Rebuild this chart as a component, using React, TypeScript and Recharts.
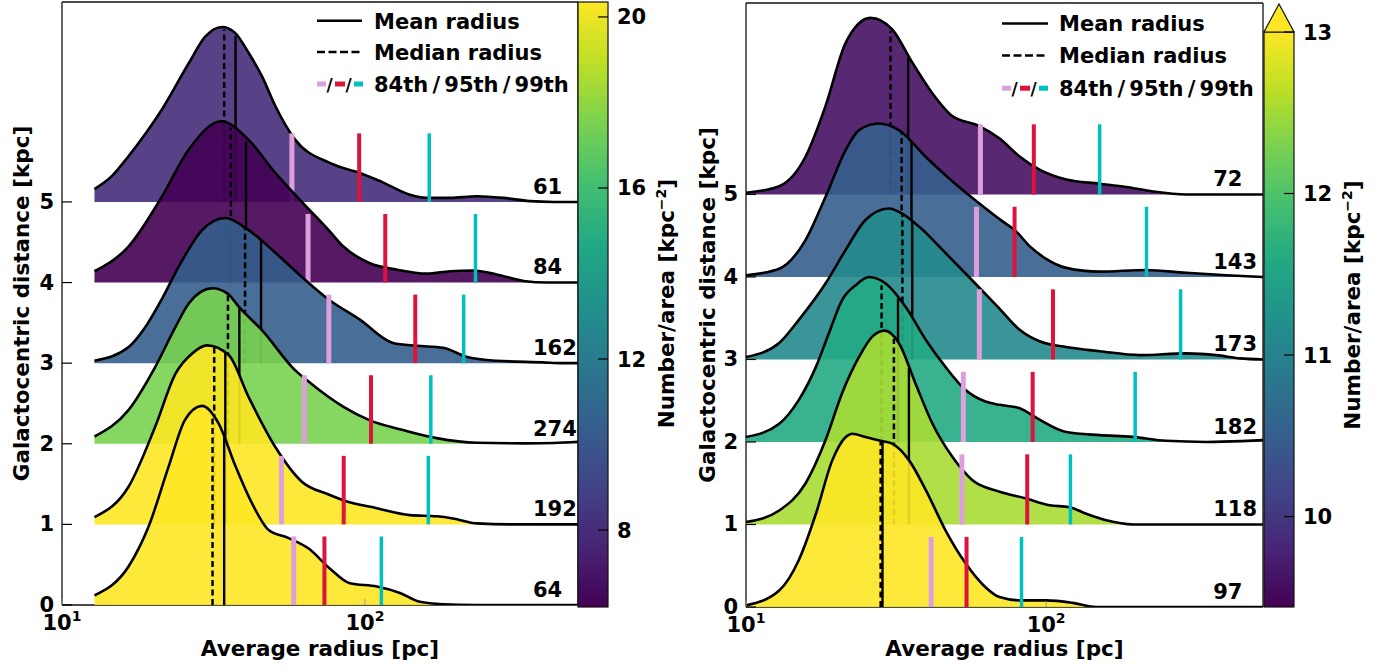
import React from 'react';
import { ComposedChart, Area, XAxis, YAxis, ReferenceLine, ReferenceDot } from 'recharts';

type Pt = [number, number];

const FONT = 'DejaVu Sans';
const H = 668;

// ridge index 0 = bottom ... 5 = top. points are [radius pc, height above the ridge baseline]
const yTicks = [0, 1, 2, 3, 4, 5];
const xTicks = [10, 100];

// ---------- left panel
const leftCounts = [64, 192, 274, 162, 84, 61];
const leftNumPerArea = [22, 21, 17.5, 10.4, 6.2, 8.0];
const leftR0: Pt[] = [[12.8, 0.12], [16.6, 0.48], [19.3, 0.97], [22.5, 1.72], [25.5, 2.3], [29, 2.47], [32.9, 2.25], [37.4, 1.72], [42.4, 1.26], [48.1, 0.93], [56, 0.83], [65.2, 0.7], [76.7, 0.45], [89.2, 0.27], [109.5, 0.23], [130.5, 0.15], [151.8, 0.04], [181, 0.01], [230, 0], [505, 0]];
const leftR1: Pt[] = [[12.8, 0.09], [16.6, 0.47], [20.3, 1.21], [23.7, 1.87], [26.9, 2.12], [30.1, 2.22], [35.5, 2.1], [41.3, 1.58], [50.6, 0.96], [61.9, 0.53], [75.9, 0.37], [84.7, 0.3], [109.5, 0.2], [140.8, 0.115], [172.5, 0.1], [195, 0.074], [234, 0.012], [300, 0], [505, 0]];
const leftR2: Pt[] = [[12.8, 0.09], [16.6, 0.42], [20.3, 0.95], [23.7, 1.45], [26.2, 1.74], [31.3, 1.93], [35.3, 1.86], [38.3, 1.7], [45.7, 1.41], [58.9, 0.91], [64.2, 0.79], [75.9, 0.58], [84.7, 0.46], [103.8, 0.29], [133.7, 0.17], [172.5, 0.07], [234, 0.012], [341, 0.005], [420, 0.01], [505, 0.025]];
const leftR3: Pt[] = [[12.8, 0.03], [16.6, 0.2], [18.7, 0.43], [21.4, 0.8], [24.3, 1.2], [29, 1.65], [34.6, 1.8], [41.3, 1.65], [50.6, 1.37], [61.9, 1.07], [75.9, 0.79], [96.2, 0.54], [123.8, 0.25], [148, 0.215], [181, 0.19], [216, 0.08], [272, 0.03], [387, 0.01], [450, 0], [505, 0]];
const leftR4: Pt[] = [[12.8, 0.14], [16.6, 0.45], [21.4, 1.07], [26.2, 1.65], [33.6, 2.0], [41.3, 1.77], [50.6, 1.36], [61.9, 1.0], [75.9, 0.65], [84.7, 0.45], [103.8, 0.24], [127, 0.16], [160, 0.11], [191, 0.14], [228, 0.15], [272, 0.1], [334, 0.02], [400, 0], [505, 0]];
const leftR5: Pt[] = [[12.8, 0.16], [14.6, 0.32], [16.6, 0.57], [18.8, 0.84], [21.4, 1.15], [26.2, 1.72], [29.7, 2.05], [33.7, 2.17], [37.2, 2.1], [41.3, 1.85], [45.7, 1.56], [50.6, 1.19], [58.9, 0.77], [75.9, 0.49], [84.7, 0.42], [96.2, 0.36], [114.9, 0.24], [140.8, 0.09], [164, 0.05], [191, 0.05], [234, 0.07], [286, 0.05], [350, 0.01], [420, 0], [505, 0]];
const leftMedian = [31.4, 31.8, 35.3, 40.2, 36.1, 34.3];
const leftMedianTop = [2.33, 2.2, 1.86, 1.69, 1.92, 2.14];
const leftMean = [34.3, 34.6, 38.5, 45.4, 40.5, 37.4];
const leftMeanTop = [2.08, 2.14, 1.69, 1.53, 1.75, 2.06];
const leftP84 = [58.2, 53.0, 63.1, 76.0, 64.9, 57.4];
const leftP95 = [73.5, 85.1, 104.7, 146.6, 116.7, 95.7];
const leftP99 = [113.3, 161.9, 165, 211.8, 231.7, 163];
const leftCbarTicks = [8, 12, 16, 20];

// ---------- right panel
const rightCounts = [97, 118, 182, 173, 143, 72];
const rightNumPerArea = [13.5, 12.54, 11.6, 11.1, 10.5, 9.6];
const rightR0: Pt[] = [[10, 0.02], [12.9, 0.2], [15, 0.57], [17.1, 1.13], [19.4, 1.78], [21.5, 2.06], [22.6, 2.1], [25, 2.06], [28.5, 2.01], [30.7, 1.98], [34.9, 1.78], [39.7, 1.42], [46.2, 0.93], [53.9, 0.53], [62.8, 0.24], [69.9, 0.12], [81.6, 0.08], [100, 0.08], [122.7, 0.05], [147, 0], [528, 0]];
const rightR1: Pt[] = [[10, 0.03], [12.9, 0.17], [15.8, 0.5], [18.4, 1.02], [20.9, 1.59], [23.8, 2.03], [26.4, 2.28], [29, 2.35], [32.3, 2.2], [36.7, 1.71], [41.7, 1.23], [48.7, 0.82], [56.7, 0.54], [69.6, 0.4], [85.8, 0.315], [102.7, 0.234], [119.7, 0.21], [136, 0.13], [158.7, 0.05], [194.5, 0], [528, 0]];
const rightR2: Pt[] = [[10, 0.06], [12.9, 0.22], [15, 0.51], [17.1, 0.91], [18.9, 1.32], [20.9, 1.72], [23.2, 1.9], [25.7, 2.0], [29.2, 1.92], [34, 1.64], [39.7, 1.24], [46.2, 0.91], [53.9, 0.63], [62.8, 0.49], [70, 0.45], [81.6, 0.41], [95.1, 0.27], [116.7, 0.12], [150.8, 0.083], [194.5, 0.062], [251, 0.014], [342, 0], [450, 0.01], [528, 0.022]];
const rightR3: Pt[] = [[10, 0.03], [12.9, 0.2], [15, 0.48], [18.4, 0.92], [21.5, 1.33], [25, 1.69], [29.9, 1.83], [33, 1.77], [37.7, 1.61], [46.2, 1.29], [56.7, 0.96], [69.8, 0.62], [81.6, 0.36], [95.1, 0.22], [116.7, 0.15], [150.8, 0.1], [205, 0.053], [293, 0.074], [369, 0.053], [442, 0.013], [528, 0]];
const rightR4: Pt[] = [[10, 0.02], [12.9, 0.1], [15.8, 0.45], [18.4, 0.97], [21.5, 1.54], [23.8, 1.78], [27.7, 1.86], [32.3, 1.78], [39.6, 1.46], [48.7, 1.16], [58.5, 0.92], [71.8, 0.67], [78.5, 0.57], [88.3, 0.37], [100, 0.22], [116.7, 0.11], [150.8, 0.064], [215, 0.085], [293, 0.05], [398, 0.02], [528, 0]];
const rightR5: Pt[] = [[10, 0.02], [12.9, 0.1], [15.8, 0.46], [18.4, 1.07], [21.5, 1.84], [26, 2.14], [30.7, 2.0], [35.8, 1.6], [41.7, 1.23], [48.7, 0.95], [59.7, 0.83], [69.8, 0.68], [81.6, 0.46], [95.1, 0.3], [116.7, 0.18], [150.8, 0.13], [185, 0.09], [227, 0.036], [293, 0], [528, 0]];
const rightMedian = [28.1, 31.1, 28.3, 33.2, 33.0, 30.3];
const rightMedianTop = [2.02, 2.25, 1.9, 1.76, 1.74, 1.98];
const rightMean = [28.5, 34.9, 32.1, 35.8, 35.6, 34.7];
const rightMeanTop = [2.0, 1.9, 1.74, 1.67, 1.64, 1.66];
const rightP84 = [41.4, 52.4, 53.0, 59.9, 58.6, 60.4];
const rightP95 = [54.3, 86.5, 90.2, 105.4, 78.5, 91.0];
const rightP99 = [82.8, 120.5, 198, 280.6, 216, 150.8];
const rightCbarTicks = [10, 11, 12, 13];

const legendLabels = ['Mean radius', 'Median radius', '84th\u2009/\u200995th\u2009/\u200999th'];
const PCT_COLORS = ['#dda0dd', '#dc143c', '#00bfbf'];

const VIRIDIS = ['#440154', '#482475', '#414487', '#355f8d', '#2a788e', '#21918c', '#22a884', '#44bf70', '#7ad151', '#bddf26', '#fde725'];
const hexToRgb = (h: string) => [1, 3, 5].map((k) => parseInt(h.slice(k, k + 2), 16));
const viridis = (t: number) => {
  const c = Math.min(1, Math.max(0, t)) * (VIRIDIS.length - 1);
  const i = Math.min(Math.floor(c), VIRIDIS.length - 2);
  const f = c - i;
  const a = hexToRgb(VIRIDIS[i]);
  const b = hexToRgb(VIRIDIS[i + 1]);
  return `rgb(${a.map((v, k) => Math.round(v + (b[k] - v) * f)).join(',')})`;
};

const bold = { fontFamily: FONT, fontWeight: 700 } as const;

interface PanelCfg {
  id: string;
  chartLeft: number;
  plotLeft: number;
  plotRight: number;
  plotTop: number;
  plotBottom: number;
  xMax: number;
  yMax: number;
  curves: Pt[][];
  counts: number[];
  numPerArea: number[];
  vmin: number;
  vmax: number;
  median: number[];
  medianTop: number[];
  mean: number[];
  meanTop: number[];
  p84: number[];
  p95: number[];
  p99: number[];
  countX: number;
  cbarTicks: number[];
  cbar: { x: number; w: number; top: number; bottom: number; arrowTop?: number };
  cbarLabelX: number;
  yLabelX: number;
  legend: { x1: number; x2: number; tx: number; rows: number[] };
}

const leftCfg: PanelCfg = {
  id: 'l', chartLeft: 0, plotLeft: 62, plotRight: 578, plotTop: 2, plotBottom: 605,
  xMax: 505, yMax: 7.48,
  curves: [leftR0, leftR1, leftR2, leftR3, leftR4, leftR5],
  counts: leftCounts, numPerArea: leftNumPerArea, vmin: 6.2, vmax: 20.35,
  median: leftMedian, medianTop: leftMedianTop, mean: leftMean, meanTop: leftMeanTop,
  p84: leftP84, p95: leftP95, p99: leftP99,
  countX: 358.5, cbarTicks: leftCbarTicks,
  cbar: { x: 578, w: 30, top: 2, bottom: 607 },
  cbarLabelX: 666, yLabelX: 21,
  legend: { x1: 317, x2: 362, tx: 374, rows: [20.7, 52, 84] },
};

const rightCfg: PanelCfg = {
  id: 'r', chartLeft: 684, plotLeft: 746, plotRight: 1263, plotTop: 3, plotBottom: 607,
  xMax: 528, yMax: 7.32,
  curves: [rightR0, rightR1, rightR2, rightR3, rightR4, rightR5],
  counts: rightCounts, numPerArea: rightNumPerArea, vmin: 9.44, vmax: 13,
  median: rightMedian, medianTop: rightMedianTop, mean: rightMean, meanTop: rightMeanTop,
  p84: rightP84, p95: rightP95, p99: rightP99,
  countX: 360.4, cbarTicks: rightCbarTicks,
  cbar: { x: 1264, w: 30, top: 32, bottom: 607, arrowTop: 4 },
  cbarLabelX: 1352, yLabelX: 707,
  legend: { x1: 1002, x2: 1048, tx: 1059, rows: [23.4, 55.4, 88.2] },
};

const RidgePanel = ({ cfg }: { cfg: PanelCfg }) => {
  const w = cfg.plotRight - cfg.chartLeft;
  const left = cfg.plotLeft - cfg.chartLeft;
  const bottom = cfg.plotBottom;
  const items: React.ReactNode[] = [];
  for (let i = 5; i >= 0; i -= 1) {
    const z = 1000 + (5 - i) * 10;
    const data = cfg.curves[i].map(([x, h]) => ({ x, y: i + h }));
    const color = viridis((cfg.numPerArea[i] - cfg.vmin) / (cfg.vmax - cfg.vmin));
    items.push(
      <Area key={`a${i}`} data={data} dataKey="y" baseValue={i} type="monotoneX" stroke="#000"
        strokeWidth={2.6} fill={color} fillOpacity={0.9} isAnimationActive={false}
        dot={false} activeDot={false} zIndex={z} />,
    );
    items.push(
      <ReferenceLine key={`md${i}`} segment={[{ x: cfg.median[i], y: i }, { x: cfg.median[i], y: i + cfg.medianTop[i] }]}
        stroke="#000" strokeWidth={2.5} strokeDasharray="6 3.5" zIndex={z + 1} />,
    );
    items.push(
      <ReferenceLine key={`mn${i}`} segment={[{ x: cfg.mean[i], y: i }, { x: cfg.mean[i], y: i + cfg.meanTop[i] }]}
        stroke="#000" strokeWidth={2.4} zIndex={z + 2} />,
    );
    [cfg.p84[i], cfg.p95[i], cfg.p99[i]].forEach((p, k) => {
      items.push(
        <ReferenceLine key={`p${i}${k}`} segment={[{ x: p, y: i }, { x: p, y: i + 0.85 }]}
          stroke={PCT_COLORS[k]} strokeWidth={[5, 4, 3.5][k]} zIndex={z + 3 + k} />,
      );
    });
  }
  cfg.counts.forEach((n, i) => {
    items.push(
      <ReferenceDot key={`n${i}`} x={cfg.countX} y={i + 0.1} r={1} zIndex={3000}
        shape={(p: any) => (
          <text x={p.cx} y={p.cy} style={bold} fontSize={21} fill="#000">{n}</text>
        )} />,
    );
  });

  const XTick = (p: any) => {
    const exp = Math.round(Math.log10(p.payload.value));
    return (
      <g>
        <line x1={p.x} x2={p.x} y1={bottom} y2={bottom - 6} stroke="#999" strokeWidth={1} />
        <text x={p.x} y={bottom + 25} textAnchor="middle" style={bold} fontSize={21} fill="#000">
          10<tspan dy={-9} fontSize={14}>{exp}</tspan>
        </text>
      </g>
    );
  };
  const YTick = (p: any) => (
    <g>
      <line x1={left} x2={left + 10} y1={p.y} y2={p.y} stroke="#000" strokeWidth={1.2} />
      <text x={left - 8} y={p.y + 7} textAnchor="end" style={bold} fontSize={21} fill="#000">
        {p.payload.value}
      </text>
    </g>
  );

  return (
    <div style={{ position: 'absolute', left: cfg.chartLeft, top: 0, width: w, height: H }}>
      <ComposedChart width={w} height={H} margin={{ top: cfg.plotTop, right: 0, bottom: 0, left: 0 }}>
        <XAxis type="number" dataKey="x" scale="log" domain={[10, cfg.xMax]} allowDataOverflow
          ticks={xTicks} interval={0} height={H - cfg.plotBottom} tick={XTick} tickLine={false}
          axisLine={{ stroke: '#111', strokeWidth: 1.3 }} />
        <YAxis type="number" domain={[0, cfg.yMax]} allowDataOverflow ticks={yTicks} interval={0}
          width={left} tick={YTick} tickLine={false} axisLine={{ stroke: '#111', strokeWidth: 1.3 }} />
        {items}
      </ComposedChart>
    </div>
  );
};

const Decorations = ({ cfg }: { cfg: PanelCfg }) => {
  const { cbar, legend } = cfg;
  const gid = `grad-${cfg.id}`;
  const cbY = (v: number) => cbar.bottom - ((v - cfg.vmin) / (cfg.vmax - cfg.vmin)) * (cbar.bottom - cbar.top);
  const midY = (cfg.plotTop + cfg.plotBottom) / 2;
  const titleX = (cfg.plotLeft + cfg.plotRight) / 2;
  const lx = legend.x1;
  return (
    <g>
      <defs>
        <linearGradient id={gid} x1="0" y1="1" x2="0" y2="0">
          {VIRIDIS.map((c, k) => <stop key={c} offset={k / (VIRIDIS.length - 1)} stopColor={c} />)}
        </linearGradient>
      </defs>
      {/* top and right spines */}
      <line x1={cfg.plotLeft} x2={cfg.plotRight} y1={cfg.plotTop} y2={cfg.plotTop} stroke="#111" strokeWidth={1.3} />
      <line x1={cfg.plotRight} x2={cfg.plotRight} y1={cfg.plotTop} y2={cfg.plotBottom} stroke="#111" strokeWidth={1.3} />
      {/* colorbar */}
      <rect x={cbar.x} y={cbar.top} width={cbar.w} height={cbar.bottom - cbar.top} fill={`url(#${gid})`} stroke="#111" strokeWidth={1.2} />
      {cbar.arrowTop !== undefined && (
        <polygon points={`${cbar.x},${cbar.top} ${cbar.x + cbar.w},${cbar.top} ${cbar.x + cbar.w / 2},${cbar.arrowTop}`}
          fill="#fde725" stroke="#111" strokeWidth={1.2} />
      )}
      {cfg.cbarTicks.map((t) => (
        <g key={t}>
          <line x1={cbar.x + cbar.w - 10} x2={cbar.x + cbar.w} y1={cbY(t)} y2={cbY(t)} stroke="#000" strokeWidth={1.2} />
          <text x={cbar.x + cbar.w + 9} y={cbY(t) + 7.5} style={bold} fontSize={21} fill="#000">{t}</text>
        </g>
      ))}
      <text transform={`rotate(-90 ${cfg.cbarLabelX} ${midY})`} x={cfg.cbarLabelX} y={midY + 7.5}
        textAnchor="middle" style={bold} fontSize={21.5} fill="#000">
        Number/area [kpc<tspan dy={-8} fontSize={14}>−2</tspan><tspan dy={8}>]</tspan>
      </text>
      {/* axis titles */}
      <text x={titleX} y={656} textAnchor="middle" style={bold} fontSize={21.5} fill="#000">Average radius [pc]</text>
      <text transform={`rotate(-90 ${cfg.yLabelX} ${midY})`} x={cfg.yLabelX} y={midY + 7.5}
        textAnchor="middle" style={bold} fontSize={21.5} fill="#000">Galactocentric distance [kpc]</text>
      {/* legend */}
      <line x1={lx} x2={legend.x2} y1={legend.rows[0]} y2={legend.rows[0]} stroke="#000" strokeWidth={2.5} />
      <line x1={lx} x2={legend.x2} y1={legend.rows[1]} y2={legend.rows[1]} stroke="#000" strokeWidth={2.5} strokeDasharray="8 3.5" />
      <rect x={lx} y={legend.rows[2] - 2.5} width={9} height={5} fill={PCT_COLORS[0]} />
      <text x={lx + 9.5} y={legend.rows[2] + 7} style={bold} fontSize={17} fill="#000">/</text>
      <rect x={lx + 18} y={legend.rows[2] - 2.5} width={10} height={5} fill={PCT_COLORS[1]} />
      <text x={lx + 28.5} y={legend.rows[2] + 7} style={bold} fontSize={17} fill="#000">/</text>
      <rect x={lx + 37} y={legend.rows[2] - 2.5} width={9} height={5} fill={PCT_COLORS[2]} />
      {legendLabels.map((s, k) => (
        <text key={s} x={legend.tx} y={legend.rows[k] + 8} style={bold} fontSize={21} fill="#000">{s}</text>
      ))}
    </g>
  );
};

export default function App() {
  return (
    <div style={{ position: 'absolute', left: 0, top: 0, width: 1392, height: H, background: '#fff' }}>
      <RidgePanel cfg={leftCfg} />
      <RidgePanel cfg={rightCfg} />
      <svg width={1392} height={H} style={{ position: 'absolute', left: 0, top: 0, pointerEvents: 'none' }}>
        <Decorations cfg={leftCfg} />
        <Decorations cfg={rightCfg} />
      </svg>
    </div>
  );
}
